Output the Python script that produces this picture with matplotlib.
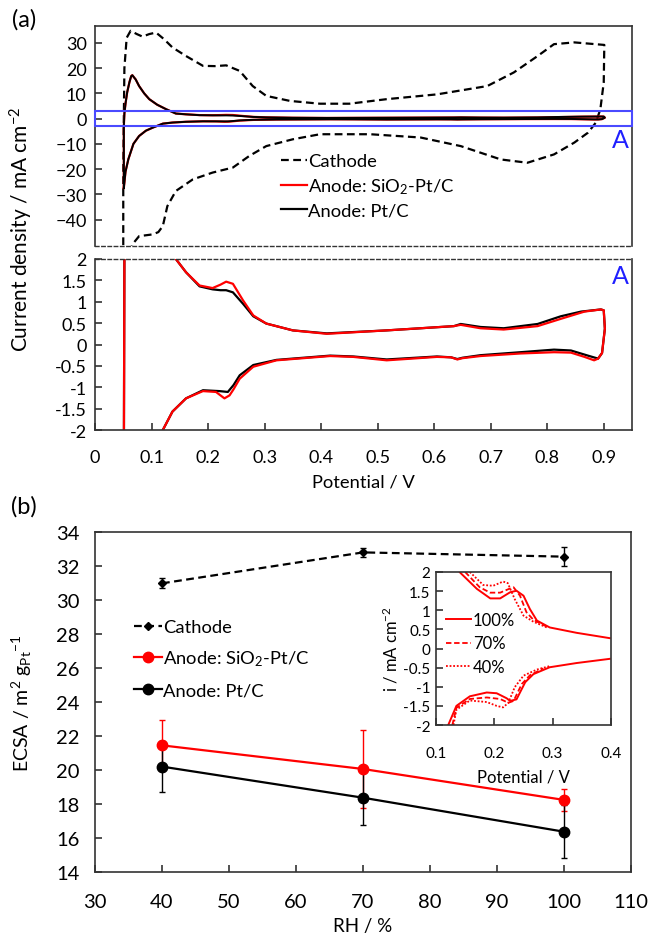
import matplotlib
matplotlib.use('Agg')
import matplotlib.pyplot as plt
from matplotlib.patches import Rectangle

plt.rcParams['font.family'] = 'Lato'
plt.rcParams['mathtext.fontset'] = 'custom'
plt.rcParams['mathtext.rm'] = 'Lato'
plt.rcParams['mathtext.it'] = 'Lato:italic'
plt.rcParams['mathtext.bf'] = 'Lato:bold'

# ---- panel (a): CV curves ----
cath_x = [0.050, 0.050, 0.052, 0.056, 0.063, 0.074, 0.084, 0.096, 0.108, 0.122, 0.137, 0.161,
          0.191, 0.212, 0.232, 0.256, 0.279, 0.303, 0.345, 0.398, 0.450, 0.516, 0.605, 0.694,
          0.741, 0.783, 0.812, 0.848, 0.901, 0.900, 0.894, 0.886, 0.872, 0.848, 0.812, 0.765,
          0.718, 0.647, 0.576, 0.487, 0.398, 0.350, 0.303, 0.273, 0.244, 0.208, 0.173, 0.143,
          0.128, 0.120, 0.112, 0.102, 0.078, 0.066, 0.060]
cath_y = [-55, -20, 20, 32, 34.8, 33.5, 32.5, 33.5, 34.1, 31.5, 28.2, 24.8,
          20.9, 20.8, 21.1, 18.9, 12.9, 9.0, 7.0, 5.9, 5.9, 7.7, 9.6, 12.9,
          18.3, 24.8, 29.5, 30.2, 29.2, 14.3, 3.7, -1.6, -5.6, -9.5, -14.2, -17.5,
          -16.2, -10.9, -7.5, -6.2, -6.2, -8.2, -10.9, -14.8, -19.4, -21.4, -24.1, -28.7,
          -34.7, -42.6, -45.0, -45.9, -46.6, -49.9, -55]

sio2_x = [0.051, 0.051, 0.052, 0.054, 0.057, 0.061, 0.064, 0.066, 0.072, 0.078, 0.087, 0.096, 0.110,
          0.126, 0.143, 0.161, 0.185, 0.208, 0.222, 0.232, 0.244, 0.262, 0.280, 0.303, 0.350,
          0.410, 0.516, 0.576, 0.635, 0.647, 0.682, 0.723, 0.783, 0.824, 0.866, 0.895, 0.900,
          0.902, 0.897, 0.890, 0.883, 0.866, 0.842, 0.812, 0.753, 0.682, 0.650, 0.641, 0.630,
          0.605, 0.516, 0.457, 0.416, 0.321, 0.280, 0.256, 0.245, 0.238, 0.229, 0.214, 0.191,
          0.161, 0.137, 0.120, 0.102, 0.090, 0.078, 0.068, 0.059, 0.054, 0.051]
sio2_y = [-27.5, -3, 2, 6, 10.5, 14.5, 16.8, 17.2, 15.5, 12.9, 10.0, 7.7, 5.5,
          3.7, 2.0, 1.69, 1.38, 1.32, 1.40, 1.47, 1.42, 1.03, 0.68, 0.49, 0.33,
          0.25, 0.33, 0.38, 0.43, 0.46, 0.38, 0.35, 0.43, 0.60, 0.77, 0.82, 0.80,
          0.37, -0.20, -0.33, -0.37, -0.29, -0.19, -0.18, -0.21, -0.27, -0.32, -0.35, -0.30,
          -0.29, -0.37, -0.29, -0.27, -0.37, -0.52, -0.80, -1.05, -1.19, -1.26, -1.11, -1.09,
          -1.26, -1.57, -2.0, -3.6, -4.8, -6.9, -10, -16.1, -21, -27.5]

ptc_x = [0.051, 0.051, 0.052, 0.054, 0.057, 0.061, 0.064, 0.066, 0.072, 0.078, 0.087, 0.096, 0.110,
         0.126, 0.143, 0.161, 0.185, 0.208, 0.222, 0.232, 0.244, 0.262, 0.280, 0.303, 0.350,
         0.410, 0.516, 0.576, 0.635, 0.647, 0.682, 0.723, 0.783, 0.824, 0.860, 0.895, 0.900,
         0.902, 0.897, 0.890, 0.872, 0.842, 0.812, 0.753, 0.682, 0.650, 0.641, 0.630,
         0.605, 0.516, 0.457, 0.416, 0.321, 0.280, 0.256, 0.245, 0.235, 0.220, 0.191,
         0.161, 0.137, 0.120, 0.102, 0.090, 0.078, 0.068, 0.059, 0.054, 0.051]
ptc_y = [-27.5, -3, 2, 6, 10.5, 14.5, 16.8, 17.2, 15.5, 12.9, 10.0, 7.7, 5.5,
         3.7, 2.0, 1.69, 1.36, 1.29, 1.27, 1.27, 1.22, 0.95, 0.66, 0.49, 0.33,
         0.26, 0.33, 0.38, 0.43, 0.48, 0.41, 0.38, 0.48, 0.66, 0.77, 0.82, 0.80,
         0.37, -0.20, -0.33, -0.26, -0.14, -0.12, -0.18, -0.25, -0.31, -0.34, -0.30,
         -0.28, -0.35, -0.28, -0.26, -0.36, -0.48, -0.72, -0.95, -1.11, -1.09, -1.07,
         -1.26, -1.57, -2.0, -3.6, -4.8, -6.9, -10, -16.1, -21, -27.5]

# ---- panel (b): ECSA vs RH ----
rh = [40, 70, 100]
ecsa_cath = [30.98, 32.8, 32.55]
ecsa_cath_err = [0.3, 0.25, 0.55]
ecsa_sio2 = [21.45, 20.06, 18.24]
ecsa_sio2_err = [1.5, 2.3, 0.65]
ecsa_ptc = [20.2, 18.37, 16.37]
ecsa_ptc_err = [1.5, 1.6, 1.57]

# ---- inset: anode SiO2-Pt/C at different RH ----
rh100_up_x = [0.141, 0.170, 0.193, 0.210, 0.227, 0.238, 0.250, 0.261, 0.273, 0.295, 0.341, 0.398]
rh100_up_y = [1.99, 1.56, 1.31, 1.31, 1.47, 1.51, 1.38, 1.03, 0.73, 0.55, 0.41, 0.27]
rh100_dn_x = [0.121, 0.135, 0.158, 0.187, 0.204, 0.221, 0.227, 0.238, 0.253, 0.267, 0.295, 0.341, 0.398]
rh100_dn_y = [-2.0, -1.5, -1.25, -1.15, -1.17, -1.30, -1.37, -1.33, -0.88, -0.67, -0.49, -0.38, -0.27]
rh70_up_x = [0.150, 0.175, 0.193, 0.210, 0.227, 0.233, 0.244, 0.255, 0.267, 0.290]
rh70_up_y = [2.0, 1.6, 1.46, 1.46, 1.57, 1.6, 1.38, 0.95, 0.75, 0.57]
rh70_dn_x = [0.128, 0.135, 0.158, 0.187, 0.210, 0.224, 0.233, 0.247, 0.261, 0.284]
rh70_dn_y = [-2.0, -1.55, -1.32, -1.28, -1.32, -1.42, -1.37, -0.93, -0.70, -0.52]
rh40_up_x = [0.158, 0.181, 0.198, 0.215, 0.223, 0.235, 0.250, 0.267, 0.290]
rh40_up_y = [2.0, 1.66, 1.64, 1.75, 1.71, 1.29, 0.86, 0.70, 0.55]
rh40_dn_x = [0.130, 0.135, 0.158, 0.187, 0.204, 0.215, 0.224, 0.235, 0.250, 0.273, 0.295]
rh40_dn_y = [-2.0, -1.6, -1.36, -1.40, -1.50, -1.54, -1.42, -1.01, -0.71, -0.55, -0.46]

half_ticks = [-2, -1.5, -1, -0.5, 0, 0.5, 1, 1.5, 2]
half_labels = ['-2', '-1.5', '-1', '-0.5', '0', '0.5', '1', '1.5', '2']

W, H = 650, 937
spine_c = '#333333'
fig = plt.figure(figsize=(W / 100, H / 100), dpi=100)


def px_axes(l, t, r, b):
    return fig.add_axes([l / W, 1 - b / H, (r - l) / W, (b - t) / H])


def style(ax, size, pad):
    for s in ax.spines.values():
        s.set_color(spine_c)
        s.set_linewidth(1.2)
    ax.tick_params(direction='in', length=5, width=1.2, color=spine_c,
                   labelsize=size, pad=pad, right=False, top=False)


# top part of (a)
ax1 = px_axes(95, 27, 632, 247)
ax1.plot(cath_x, cath_y, color='black', lw=1.6, dashes=(3.5, 2))
ax1.plot(sio2_x, sio2_y, color='red', lw=1.6)
ax1.plot(ptc_x, ptc_y, color='black', lw=1.4)
ax1.add_patch(Rectangle((0, -3), 0.95, 6, fill=False, ec='#4a4aff', lw=1.5, zorder=5, clip_on=False))
ax1.text(0.93, -8.3, 'A', color='#2020ff', fontsize=18, ha='center', va='center')
ax1.set_xlim(0, 0.95)
ax1.set_ylim(-50.5, 36.7)
ax1.set_yticks(range(-40, 31, 10))
style(ax1, 13, 6)
ax1.tick_params(bottom=False, labelbottom=False)
ax1.spines['bottom'].set_linestyle((0, (2.5, 2)))
ax1.spines['bottom'].set_linewidth(1.0)
ax1.legend([plt.Line2D([], [], color='black', lw=1.6, dashes=(3.5, 2)),
            plt.Line2D([], [], color='red', lw=1.6),
            plt.Line2D([], [], color='black', lw=1.6)],
           ['Cathode', 'Anode: SiO$_2$-Pt/C', 'Anode: Pt/C'],
           loc='upper left', bbox_to_anchor=(281 / W, 1 - 154 / H), bbox_transform=fig.transFigure,
           frameon=False, fontsize=13.2, handlelength=1.4, handletextpad=0.1,
           labelspacing=0.38, borderpad=0, borderaxespad=0)

# bottom part of (a): region A
ax2 = px_axes(95, 260, 632, 431)
ax2.plot(ptc_x, ptc_y, color='black', lw=1.6)
ax2.plot(sio2_x, sio2_y, color='red', lw=1.6)
ax2.text(0.93, 1.62, 'A', color='#2020ff', fontsize=18, ha='center', va='center')
ax2.set_xlim(0, 0.95)
ax2.set_ylim(-2, 2)
ax2.set_yticks(half_ticks)
ax2.set_yticklabels(half_labels)
ax2.set_xticks([0, 0.1, 0.2, 0.3, 0.4, 0.5, 0.6, 0.7, 0.8, 0.9])
ax2.set_xticklabels(['0', '0.1', '0.2', '0.3', '0.4', '0.5', '0.6', '0.7', '0.8', '0.9'])
style(ax2, 13, 6)
ax2.tick_params(axis='x', pad=14)
ax2.spines['top'].set_linestyle((0, (2.5, 2)))
ax2.spines['top'].set_linewidth(1.0)
ax2.set_xlabel('Potential / V', fontsize=13.2, labelpad=6)

fig.text(21 / W, 1 - 229 / H, 'Current density / mA cm$^{-2}$', rotation=90,
         ha='center', va='center', fontsize=15)
fig.text(24 / W, 1 - 20 / H, '(a)', ha='center', va='center', fontsize=17)

# panel (b)
ax3 = px_axes(95, 533, 631, 873)
ax3.errorbar(rh, ecsa_cath, yerr=ecsa_cath_err, color='black', lw=1.6, dashes=(3.5, 2),
             marker='D', ms=4.5, ecolor='black', elinewidth=1, capsize=2.5)
ax3.errorbar(rh, ecsa_sio2, yerr=ecsa_sio2_err, color='red', lw=1.6,
             marker='o', ms=7.5, ecolor='red', elinewidth=1, capsize=2.5)
ax3.errorbar(rh, ecsa_ptc, yerr=ecsa_ptc_err, color='black', lw=1.6,
             marker='o', ms=7.5, ecolor='black', elinewidth=1, capsize=2.5)
ax3.set_xlim(30, 110)
ax3.set_ylim(14, 34)
ax3.set_xticks(range(30, 111, 10))
ax3.set_yticks(range(14, 35, 2))
style(ax3, 14.5, 11)
ax3.tick_params(axis='x', pad=15)
ax3.set_xlabel('RH / %', fontsize=13.5, labelpad=5)
fig.text(22 / W, 1 - 703 / H, 'ECSA / m$^2$ g$_{\\rm Pt}$$^{-1}$', rotation=90,
         ha='center', va='center', fontsize=14)
fig.text(24 / W, 1 - 507 / H, '(b)', ha='center', va='center', fontsize=17)
ax3.legend([plt.Line2D([], [], color='black', lw=1.6, dashes=(3.5, 2), marker='D', ms=4.5),
            plt.Line2D([], [], color='red', lw=1.6, marker='o', ms=7.5),
            plt.Line2D([], [], color='black', lw=1.6, marker='o', ms=7.5)],
           ['Cathode', 'Anode: SiO$_2$-Pt/C', 'Anode: Pt/C'],
           loc='upper left', bbox_to_anchor=(134 / W, 1 - 620 / H), bbox_transform=fig.transFigure,
           frameon=False, fontsize=13.2, handlelength=1.55, handletextpad=0.05,
           labelspacing=0.75, borderpad=0, borderaxespad=0)

# inset
ax4 = px_axes(436, 573, 611, 726)
ax4.plot(rh100_up_x, rh100_up_y, color='red', lw=1.4)
ax4.plot(rh100_dn_x, rh100_dn_y, color='red', lw=1.4)
ax4.plot(rh70_up_x, rh70_up_y, color='red', lw=1.3, dashes=(3, 1.5))
ax4.plot(rh70_dn_x, rh70_dn_y, color='red', lw=1.3, dashes=(3, 1.5))
ax4.plot(rh40_up_x, rh40_up_y, color='red', lw=1.3, dashes=(1, 1))
ax4.plot(rh40_dn_x, rh40_dn_y, color='red', lw=1.3, dashes=(1, 1))
ax4.set_xlim(0.1, 0.4)
ax4.set_ylim(-2, 2)
ax4.set_xticks([0.1, 0.2, 0.3, 0.4])
ax4.set_xticklabels(['0.1', '0.2', '0.3', '0.4'])
ax4.set_yticks(half_ticks)
ax4.set_yticklabels(half_labels)
style(ax4, 11, 4)
ax4.tick_params(axis='x', pad=15)
ax4.set_xlabel('Potential / V', fontsize=12, labelpad=6)
fig.text(391 / W, 1 - 649 / H, 'i / mA cm$^{-2}$', rotation=90,
         ha='center', va='center', fontsize=12)
ax4.legend([plt.Line2D([], [], color='red', lw=1.4),
            plt.Line2D([], [], color='red', lw=1.3, dashes=(3, 1.5)),
            plt.Line2D([], [], color='red', lw=1.3, dashes=(1, 1))],
           ['100%', '70%', '40%'],
           loc='upper left', bbox_to_anchor=(446 / W, 1 - 613 / H), bbox_transform=fig.transFigure,
           frameon=False, fontsize=12, handlelength=1.5, handletextpad=0.1,
           labelspacing=0.45, borderpad=0, borderaxespad=0)

fig.savefig('out.png', dpi=100)
